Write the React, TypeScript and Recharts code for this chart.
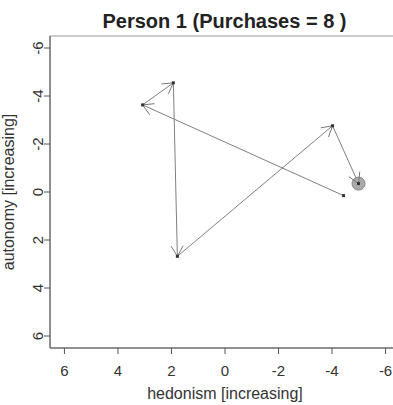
import { LineChart, Line, XAxis, YAxis, ReferenceArea } from 'recharts'

// path of one person through the hedonism / autonomy space, in purchase order
const hedonism = [-4.43, 3.08, 1.93, 1.78, -4.02, -4.99]
const autonomy = [0.15, -3.63, -4.55, 2.68, -2.76, -0.35]
const ticks = [-6, -4, -2, 0, 2, 4, 6]
const xLimit = 6.54
const yLimit = 6.5
const title = 'Person 1 (Purchases = 8 )'
const xLabel = 'hedonism [increasing]'
const yLabel = 'autonomy [increasing]'

const data = hedonism.map((h, i) => ({ hedonism: h, autonomy: autonomy[i] }))

const font = '"Liberation Sans", Arial, sans-serif'

function ArrowDot(props: any) {
  const { cx, cy, index, points } = props
  const last = index === data.length - 1
  let head = null
  if (index > 0 && points && points[index - 1]) {
    const prev = points[index - 1]
    const ang = Math.atan2(cy - prev.y, cx - prev.x)
    const len = 12
    const spread = Math.PI / 6
    const ax = cx - len * Math.cos(ang - spread)
    const ay = cy - len * Math.sin(ang - spread)
    const bx = cx - len * Math.cos(ang + spread)
    const by = cy - len * Math.sin(ang + spread)
    head = <path d={`M${ax},${ay}L${cx},${cy}L${bx},${by}`} fill="none" stroke="#777" strokeWidth={1} />
  }
  return (
    <g key={`dot-${index}`}>
      {last && <circle cx={cx} cy={cy} r={6.5} fill="#aaa" stroke="#888" />}
      {head}
      <rect x={cx - 1.5} y={cy - 1.5} width={3} height={3} fill="#333" />
    </g>
  )
}

function YTick({ x, y, payload }: any) {
  return (
    <text
      x={x}
      y={y}
      transform={`rotate(-90 ${x} ${y})`}
      textAnchor="middle"
      fontSize={15}
      fill="#333"
      fontFamily={font}
    >
      {payload.value}
    </text>
  )
}

export default function App() {
  return (
    <div style={{ position: 'relative', width: 393, height: 405, overflow: 'hidden', fontFamily: font }}>
      <style>{'body{margin:0}'}</style>
      <div
        style={{
          position: 'absolute',
          left: 0,
          top: 10,
          width: 449,
          textAlign: 'center',
          fontWeight: 'bold',
          fontSize: 20,
          color: '#222',
          whiteSpace: 'nowrap',
        }}
      >
        {title}
      </div>
      <LineChart width={410} height={405} data={data} margin={{ top: 36, right: 10, bottom: 0, left: 0 }}>
        <ReferenceArea
          x1={-xLimit}
          x2={xLimit}
          y1={-yLimit}
          y2={yLimit}
          fill="none"
          stroke="#999"
          strokeWidth={1}
        />
        <XAxis
          type="number"
          dataKey="hedonism"
          domain={[-xLimit, xLimit]}
          ticks={ticks}
          reversed
          allowDataOverflow
          height={57}
          tickSize={6}
          tickMargin={11}
          stroke="#555"
          tick={{ fontSize: 15, fill: '#333', fontFamily: font }}
          label={{
            value: xLabel,
            position: 'insideBottom',
            offset: 6,
            fontSize: 16,
            fill: '#333',
            fontFamily: font,
          }}
        />
        <YAxis
          type="number"
          dataKey="autonomy"
          domain={[-yLimit, yLimit]}
          ticks={ticks}
          reversed
          allowDataOverflow
          width={50}
          tickSize={6}
          tickMargin={1}
          stroke="#555"
          tick={<YTick />}
          label={{
            content: () => (
              <text
                x={14}
                y={192}
                transform="rotate(-90 14 192)"
                textAnchor="middle"
                fontSize={16}
                fill="#333"
                fontFamily={font}
              >
                {yLabel}
              </text>
            ),
          }}
        />
        <Line
          type="linear"
          dataKey="autonomy"
          stroke="#808080"
          strokeWidth={1}
          dot={(p: any) => <ArrowDot {...p} />}
          activeDot={false}
          isAnimationActive={false}
        />
      </LineChart>
    </div>
  )
}
